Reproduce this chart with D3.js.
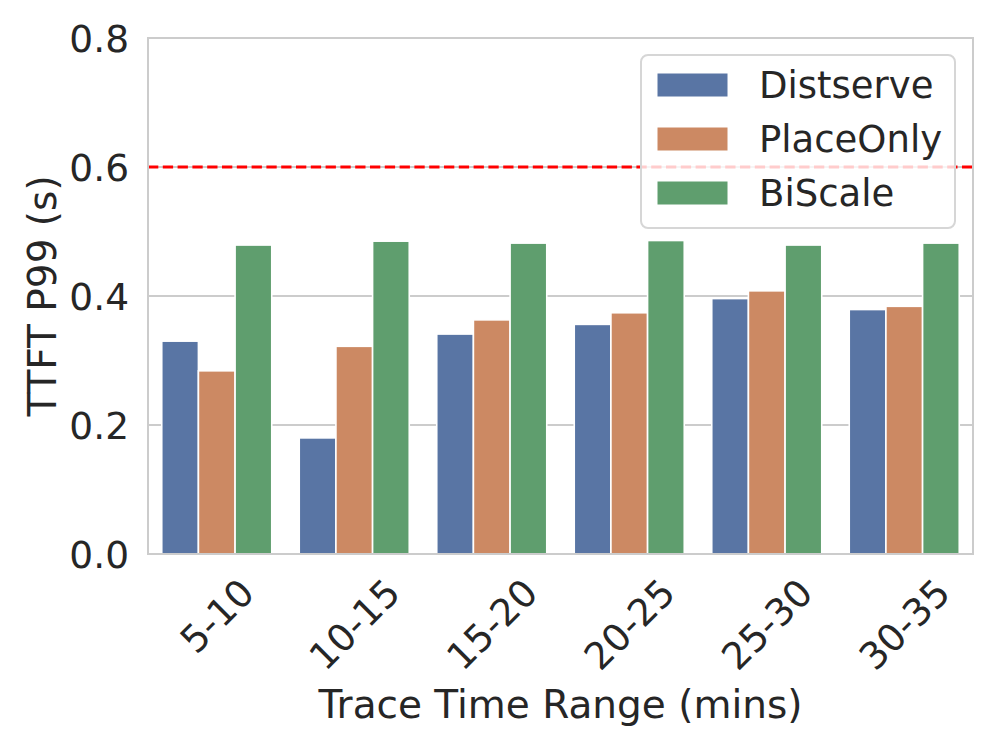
<!DOCTYPE html>
<html>
<head>
<meta charset="utf-8">
<script src="https://cdn.jsdelivr.net/npm/d3@7"></script>
<style>
    body { margin: 0; background: #fff; }
    text { font-family: "DejaVu Sans", sans-serif; fill: #262626; }
</style>
</head>
<body>
<div id="chart"></div>
<script>
    // data
    var ranges = ["5-10", "10-15", "15-20", "20-25", "25-30", "30-35"];
    var systems = ["Distserve", "PlaceOnly", "BiScale"];
    var distserve = [0.330, 0.180, 0.341, 0.356, 0.396, 0.379];
    var placeOnly = [0.284, 0.322, 0.363, 0.374, 0.408, 0.384];
    var biScale = [0.479, 0.485, 0.482, 0.486, 0.479, 0.482];
    var yTicks = [0.0, 0.2, 0.4, 0.6, 0.8];
    var slo = 0.6;

    var colors = ["#5975a4", "#cc8963", "#5f9e6e"];
    var series = [distserve, placeOnly, biScale];

    var rows = [];
    ranges.forEach(function(r, i) {
        systems.forEach(function(s, j) {
            rows.push({ range: r, system: s, value: series[j][i] });
        });
    });

    var width = 996, height = 747;
    var margin = { top: 38, left: 148, right: 23, bottom: 193 };
    var fs = 37.5;      // tick labels
    var labelFs = 39;   // axis titles
    var legendFs = 37;

    var svg = d3.select("#chart")
        .append("svg")
        .attr("width", width)
        .attr("height", height);

    var xScale = d3.scaleBand()
        .domain(ranges)
        .range([margin.left, width - margin.right])
        .paddingInner(0.2)
        .paddingOuter(0.1);

    var xInner = d3.scaleBand()
        .domain(systems)
        .range([0, xScale.bandwidth()]);

    var yScale = d3.scaleLinear()
        .domain([0, 0.8])
        .range([height - margin.bottom, margin.top]);

    /*
    GRID
    */
    svg.append("g")
        .selectAll("line")
        .data(yTicks.slice(1, 4))
        .enter()
        .append("line")
        .attr("x1", margin.left)
        .attr("x2", width - margin.right)
        .attr("y1", function(d) { return yScale(d); })
        .attr("y2", function(d) { return yScale(d); })
        .attr("stroke", "#cccccc")
        .attr("stroke-width", 2);

    /*
    BARS
    */
    svg.append("g")
        .selectAll("rect")
        .data(rows)
        .enter()
        .append("rect")
        .attr("x", function(d) { return xScale(d.range) + xInner(d.system); })
        .attr("y", function(d) { return yScale(d.value); })
        .attr("width", xInner.bandwidth())
        .attr("height", function(d) { return yScale(0) - yScale(d.value); })
        .attr("fill", function(d) { return colors[systems.indexOf(d.system)]; })
        .attr("stroke", "#ffffff")
        .attr("stroke-width", 1.6);

    // SLO line
    svg.append("line")
        .attr("x1", margin.left)
        .attr("x2", width - margin.right)
        .attr("y1", yScale(slo))
        .attr("y2", yScale(slo))
        .attr("stroke", "#ff0000")
        .attr("stroke-width", 2.8)
        .attr("stroke-dasharray", "10.3,4.5");

    // frame
    svg.append("rect")
        .attr("x", margin.left)
        .attr("y", margin.top)
        .attr("width", width - margin.left - margin.right)
        .attr("height", height - margin.top - margin.bottom)
        .attr("fill", "none")
        .attr("stroke", "#cccccc")
        .attr("stroke-width", 2);

    /*
    AXES
    */
    var yAxis = svg.append("g")
        .attr("transform", `translate(${margin.left},0)`)
        .call(d3.axisLeft(yScale).tickValues(yTicks).tickFormat(d3.format(".1f")).tickSize(0).tickPadding(19));
    yAxis.select(".domain").remove();
    yAxis.selectAll("text")
        .attr("font-size", fs)
        .attr("font-family", "DejaVu Sans")
        .attr("fill", "#262626")
        .attr("dy", "0.36em");

    var xLabels = svg.append("g");
    ranges.forEach(function(r) {
        var t = xLabels.append("text")
            .attr("font-size", fs)
            .attr("text-anchor", "middle")
            .attr("dy", "0.36em")
            .text(r);
        var tw = t.node().getComputedTextLength();
        var cx = xScale(r) + xScale.bandwidth() / 2;
        var cy = 576 + (tw + 0.73 * fs) / (2 * Math.SQRT2);
        t.attr("transform", `translate(${cx},${cy}) rotate(-45)`);
    });

    svg.append("text")
        .attr("x", margin.left + (width - margin.left - margin.right) / 2)
        .attr("y", 718)
        .attr("font-size", labelFs)
        .attr("text-anchor", "middle")
        .text("Trace Time Range (mins)");

    svg.append("text")
        .attr("transform", `translate(56,${(margin.top + height - margin.bottom) / 2}) rotate(-90)`)
        .attr("font-size", labelFs)
        .attr("text-anchor", "middle")
        .text("TTFT P99 (s)");

    /*
    LEGEND
    */
    var legend = svg.append("g");
    legend.append("rect")
        .attr("x", 641)
        .attr("y", 55)
        .attr("width", 314)
        .attr("height", 173)
        .attr("rx", 7)
        .attr("fill", "rgba(255,255,255,0.8)")
        .attr("stroke", "#d6d6d6")
        .attr("stroke-width", 2);

    systems.forEach(function(s, i) {
        var cy = 85 + i * 54;
        legend.append("rect")
            .attr("x", 657)
            .attr("y", cy - 12)
            .attr("width", 71)
            .attr("height", 24)
            .attr("fill", colors[i])
            .attr("stroke", "#ffffff")
            .attr("stroke-width", 1);
        legend.append("text")
            .attr("x", 759)
            .attr("y", cy)
            .attr("dy", "0.36em")
            .attr("font-size", legendFs)
            .text(s);
    });
</script>
</body>
</html>
